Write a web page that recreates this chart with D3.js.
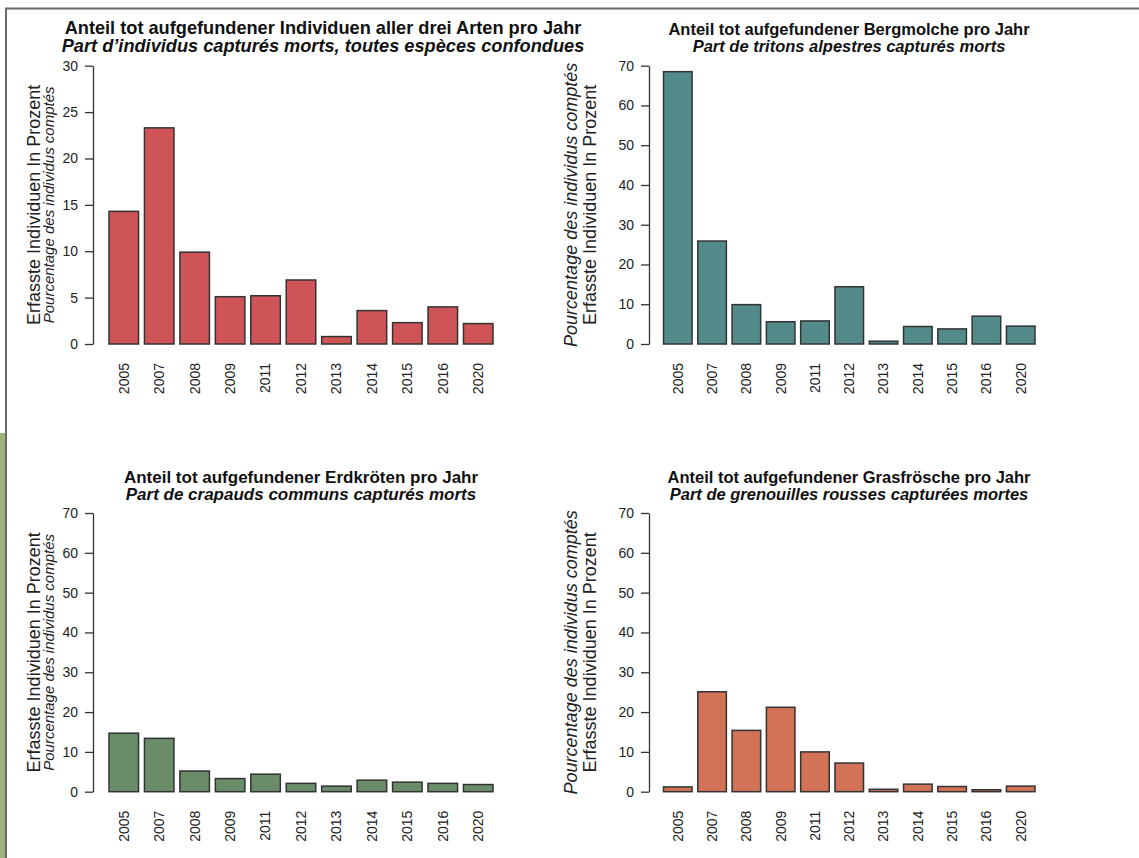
<!DOCTYPE html>
<html>
<head>
<meta charset="utf-8">
<script src="https://cdn.jsdelivr.net/npm/d3@7"></script>
<style>
  html, body { margin: 0; padding: 0; background: #fff; }
  svg { display: block; font-family: "Liberation Sans", Arial, sans-serif; }
</style>
</head>
<body>
<svg id="chart"></svg>
<script>
// Jahre (x-Achse)
const years = ["2005","2007","2008","2009","2011","2012","2013","2014","2015","2016","2020"];

// Anteil tot aufgefundener Individuen (%) je Art
const alleArten  = [14.3, 23.3, 9.9, 5.1, 5.2, 6.9, 0.8, 3.6, 2.3, 4.0, 2.2];
const bergmolch  = [68.5, 25.9, 9.9, 5.6, 5.8, 14.4, 0.7, 4.4, 3.8, 7.0, 4.5];
const erdkroete  = [14.7, 13.4, 5.2, 3.3, 4.4, 2.1, 1.4, 2.9, 2.4, 2.1, 1.8];
const grasfrosch = [1.2, 25.1, 15.4, 21.2, 10.0, 7.2, 0.6, 1.9, 1.3, 0.5, 1.4];

// y-Achsen Ticks
const ticks30 = [0, 5, 10, 15, 20, 25, 30];
const ticks70 = [0, 10, 20, 30, 40, 50, 60, 70];

const width = 1139, height = 858;

const svg = d3.select("#chart")
  .attr("width", width)
  .attr("height", height)
  .attr("viewBox", [0, 0, width, height]);

// Rahmen / Hintergrund der Vorlage
svg.append("rect")
  .attr("x", 0).attr("y", 433).attr("width", 5).attr("height", height - 433)
  .attr("fill", "#9db27a");
svg.append("path")
  .attr("d", `M6,${height}V8.5H${width}`)
  .attr("fill", "none")
  .attr("stroke", "#6b6b6b")
  .attr("stroke-width", 2);

const panels = [
  {
    values: alleArten, ticks: ticks30, color: "#cf5457",
    title: "Anteil tot aufgefundener Individuen aller drei Arten pro Jahr",
    sub: "Part d\u2019individus capturés morts, toutes espèces confondues",
    axisX: 93, xRange: [109, 493], yRange: [344, 65.7],
    titleX: 323, titleY: 34, titleSize: 18.2, right: false
  },
  {
    values: bergmolch, ticks: ticks70, color: "#538a8a",
    title: "Anteil tot aufgefundener Bergmolche pro Jahr",
    sub: "Part de tritons alpestres capturés morts",
    axisX: 649, xRange: [663.5, 1035], yRange: [344, 65.7],
    titleX: 849, titleY: 35, titleSize: 16.5, right: true
  },
  {
    values: erdkroete, ticks: ticks70, color: "#6a8c69",
    title: "Anteil tot aufgefundener Erdkröten pro Jahr",
    sub: "Part de crapauds communs capturés morts",
    axisX: 93, xRange: [109, 493], yRange: [791.7, 513],
    titleX: 301, titleY: 483, titleSize: 17, right: false
  },
  {
    values: grasfrosch, ticks: ticks70, color: "#d27256",
    title: "Anteil tot aufgefundener Grasfrösche pro Jahr",
    sub: "Part de grenouilles rousses capturées mortes",
    axisX: 649, xRange: [663.5, 1035], yRange: [791.7, 513],
    titleX: 849, titleY: 483, titleSize: 16.5, right: true
  }
];

panels.forEach(p => {
  const g = svg.append("g");

  const x = d3.scaleBand()
    .domain(years)
    .range(p.xRange)
    .paddingInner(1 / 6)
    .paddingOuter(0);

  const y = d3.scaleLinear()
    .domain([0, d3.max(p.ticks)])
    .range(p.yRange);

  // Balken
  g.append("g")
    .selectAll("rect")
    .data(p.values)
    .join("rect")
      .attr("x", (d, i) => x(years[i]))
      .attr("y", d => y(d))
      .attr("width", x.bandwidth())
      .attr("height", d => y(0) - y(d))
      .attr("fill", p.color)
      .attr("stroke", "#333")
      .attr("stroke-width", 1.5);

  // y-Achse
  g.append("g")
    .attr("transform", `translate(${p.axisX},0)`)
    .call(d3.axisLeft(y).tickValues(p.ticks).tickSize(8).tickSizeOuter(0).tickPadding(7))
    .call(a => a.selectAll("path, line").attr("stroke", "#333").attr("stroke-width", 1.3))
    .call(a => a.selectAll("text")
      .attr("fill", "#222")
      .attr("font-size", 14)
      .attr("font-family", "Liberation Sans, Arial, sans-serif"));

  // Jahreszahlen, senkrecht
  g.append("g")
    .selectAll("text")
    .data(years)
    .join("text")
      .attr("transform", d => `translate(${x(d) + x.bandwidth() / 2},${y(0) + 19}) rotate(-90)`)
      .attr("dy", "0.35em")
      .attr("text-anchor", "end")
      .attr("font-size", 14)
      .attr("fill", "#222")
      .text(d => d);

  // Titel (zweizeilig, eng gesetzt wie in der Vorlage)
  g.append("text")
    .attr("x", p.titleX).attr("y", p.titleY)
    .attr("text-anchor", "middle")
    .attr("font-size", p.titleSize).attr("font-weight", "bold")
    .attr("fill", "#111")
    .text(p.title);
  g.append("text")
    .attr("x", p.titleX).attr("y", p.titleY + p.titleSize)
    .attr("text-anchor", "middle")
    .attr("font-size", p.titleSize).attr("font-weight", "bold").attr("font-style", "italic")
    .attr("fill", "#111")
    .text(p.sub);

  // Achsentitel
  const cy = (p.yRange[0] + p.yRange[1]) / 2;
  const de = { text: "Erfasste Individuen In Prozent", size: 18, italic: false };
  const fr = { text: "Pourcentage des individus comptés", size: p.right ? 18 : 15, italic: true };
  const labels = p.right
    ? [{ ...fr, x: p.axisX - 78 }, { ...de, x: p.axisX - 59 }]
    : [{ ...de, x: p.axisX - 59 }, { ...fr, x: p.axisX - 44.5 }];
  labels.forEach(l => {
    g.append("text")
      .attr("transform", `translate(${l.x},${cy}) rotate(-90)`)
      .attr("dy", "0.35em")
      .attr("text-anchor", "middle")
      .attr("font-size", l.size)
      .attr("font-style", l.italic ? "italic" : "normal")
      .attr("fill", "#222")
      .text(l.text);
  });
});
</script>
</body>
</html>
